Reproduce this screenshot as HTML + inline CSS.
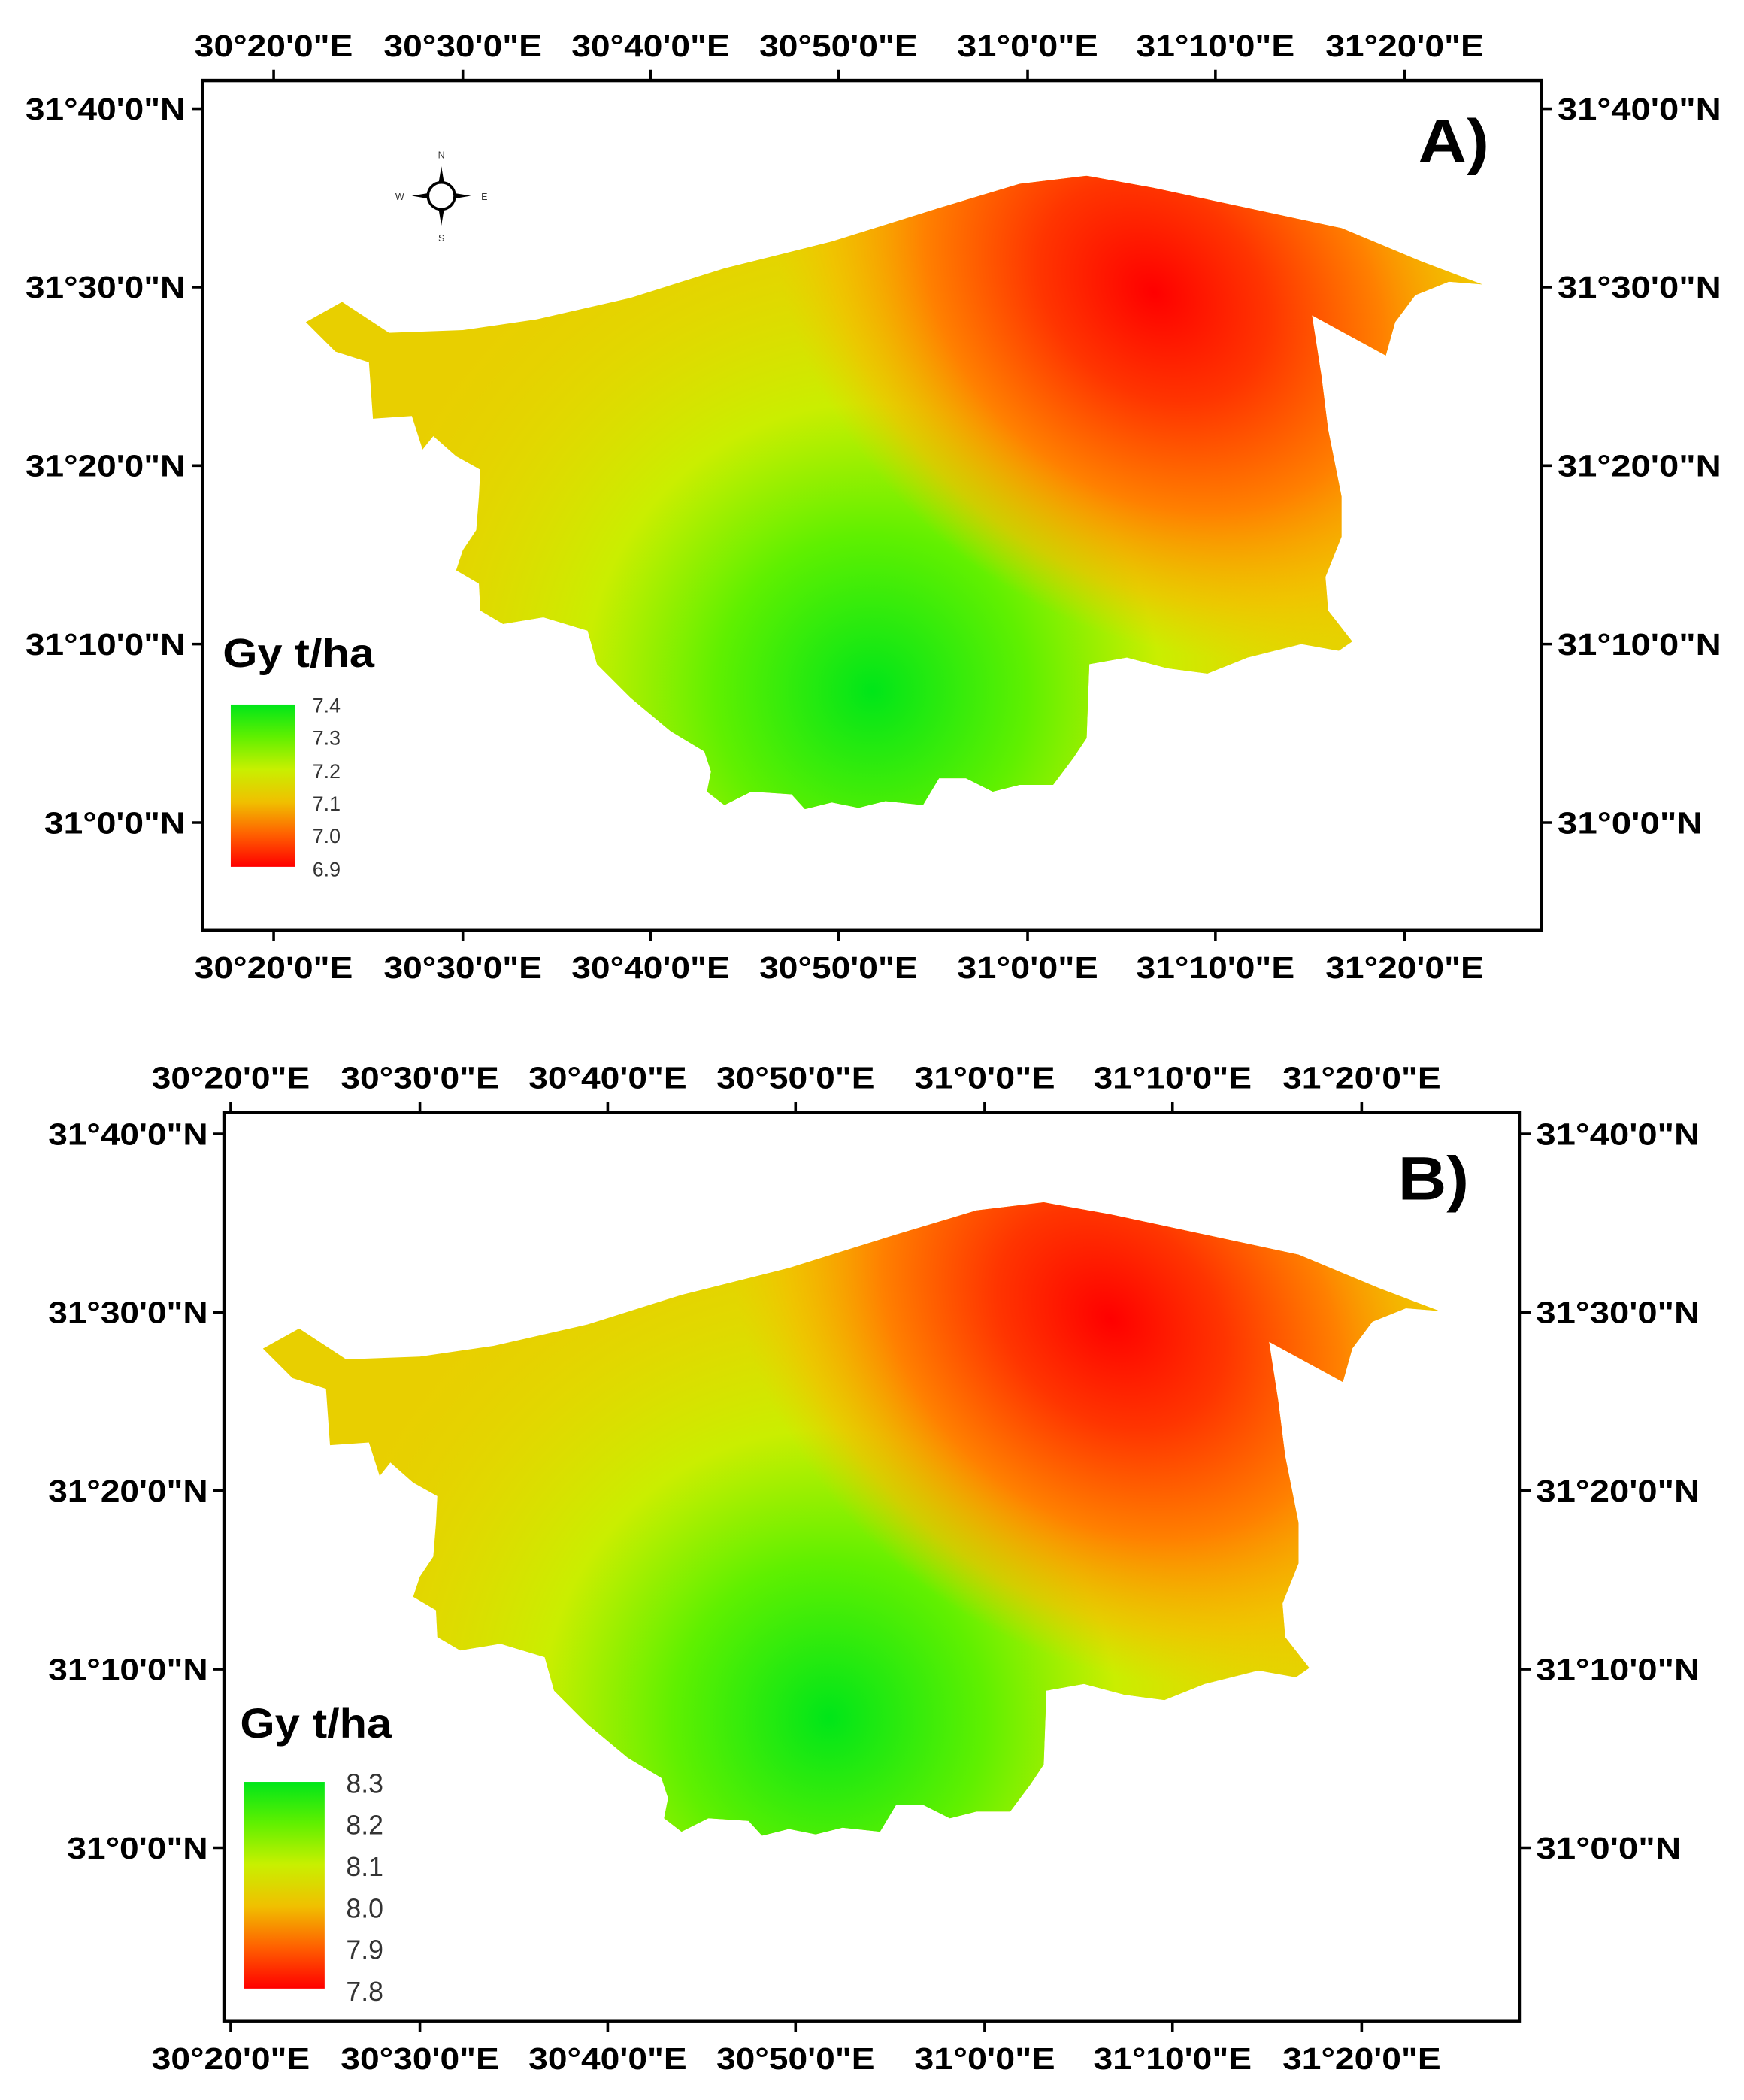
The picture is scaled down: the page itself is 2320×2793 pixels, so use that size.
<!DOCTYPE html>
<html><head><meta charset="utf-8"><style>html,body{margin:0;padding:0;background:#fff}svg{display:block}</style></head>
<body>
<svg width="2320" height="2793" viewBox="0 0 1300 1565" preserveAspectRatio="none" xmlns="http://www.w3.org/2000/svg" font-family="Liberation Sans, sans-serif" font-weight="bold">
<defs>
<clipPath id="shp"><path d="M228,240 L255,225 L290,248 L345,246 L400,238 L470,222 L540,200 L620,180 L700,155 L760,137 L810,131 L860,140 L930,155 L1000,170 L1060,195 L1105,212 L1080,210 L1055,220 L1040,240 L1033,265 L978,235 L985,280 L990,320 L1000,370 L1000,400 L988,430 L990,455 L1008,478 L998,485 L970,480 L930,490 L900,502 L870,498 L840,490 L812,495 L810,550 L800,565 L785,585 L760,585 L740,590 L720,580 L700,580 L688,600 L660,597 L640,602 L620,598 L600,603 L590,592 L560,590 L540,600 L527,590 L530,575 L525,560 L500,545 L470,520 L445,495 L438,470 L405,460 L375,465 L358,455 L357,435 L340,425 L345,410 L355,395 L357,370 L358,350 L340,340 L323,325 L315,335 L307,310 L278,312 L275,270 L250,262 Z"/></clipPath>
<radialGradient id="gr" gradientUnits="userSpaceOnUse" cx="650" cy="515" r="390">
<stop offset="0" stop-color="#00e619"/><stop offset="0.3" stop-color="#60f000"/><stop offset="0.55" stop-color="#c8f000" stop-opacity="0.95"/><stop offset="0.8" stop-color="#d8e400" stop-opacity="0.4"/><stop offset="1" stop-color="#e0d800" stop-opacity="0"/></radialGradient>
<radialGradient id="rd" gradientUnits="userSpaceOnUse" cx="860" cy="218" r="270" gradientTransform="translate(860 218) rotate(40) scale(1.15 0.9) translate(-860 -218)">
<stop offset="0" stop-color="#ff0000"/><stop offset="0.3" stop-color="#ff3500"/><stop offset="0.6" stop-color="#ff8000"/><stop offset="0.85" stop-color="#f8b800" stop-opacity="0.6"/><stop offset="1" stop-color="#f0c800" stop-opacity="0"/></radialGradient>
<linearGradient id="lgA" x1="0" y1="0" x2="0" y2="1"><stop offset="0" stop-color="#00e619"/><stop offset="0.2" stop-color="#60f000"/><stop offset="0.4" stop-color="#c8f000"/><stop offset="0.6" stop-color="#f0c000"/><stop offset="0.8" stop-color="#ff6000"/><stop offset="1" stop-color="#ff0000"/></linearGradient>
<g id="map">
<g clip-path="url(#shp)"><rect x="200" y="100" width="950" height="520" fill="#e8cf00"/><rect x="200" y="100" width="950" height="520" fill="url(#gr)"/><rect x="200" y="100" width="950" height="520" fill="url(#rd)"/></g>
</g>
</defs>
<g font-size="23">
<!-- Panel A -->
<rect x="151" y="60" width="998" height="633" fill="none" stroke="#000" stroke-width="2.5"/>
<use href="#map"/>
<g stroke="#000" stroke-width="2">
<path d="M204,60v-8M345,60v-8M485,60v-8M625,60v-8M766,60v-8M906,60v-8M1047,60v-8"/>
<path d="M204,693v8M345,693v8M485,693v8M625,693v8M766,693v8M906,693v8M1047,693v8"/>
<path d="M151,81h-8M151,214h-8M151,347h-8M151,480h-8M151,613h-8"/>
<path d="M1149,81h8M1149,214h8M1149,347h8M1149,480h8M1149,613h8"/>
</g>
<g text-anchor="middle" lengthAdjust="spacingAndGlyphs">
<text x="204" y="42" textLength="118" lengthAdjust="spacingAndGlyphs">30°20'0"E</text><text x="345" y="42" textLength="118" lengthAdjust="spacingAndGlyphs">30°30'0"E</text><text x="485" y="42" textLength="118" lengthAdjust="spacingAndGlyphs">30°40'0"E</text><text x="625" y="42" textLength="118" lengthAdjust="spacingAndGlyphs">30°50'0"E</text><text x="766" y="42" textLength="105" lengthAdjust="spacingAndGlyphs">31°0'0"E</text><text x="906" y="42" textLength="118" lengthAdjust="spacingAndGlyphs">31°10'0"E</text><text x="1047" y="42" textLength="118" lengthAdjust="spacingAndGlyphs">31°20'0"E</text>
<text x="204" y="729" textLength="118" lengthAdjust="spacingAndGlyphs">30°20'0"E</text><text x="345" y="729" textLength="118" lengthAdjust="spacingAndGlyphs">30°30'0"E</text><text x="485" y="729" textLength="118" lengthAdjust="spacingAndGlyphs">30°40'0"E</text><text x="625" y="729" textLength="118" lengthAdjust="spacingAndGlyphs">30°50'0"E</text><text x="766" y="729" textLength="105" lengthAdjust="spacingAndGlyphs">31°0'0"E</text><text x="906" y="729" textLength="118" lengthAdjust="spacingAndGlyphs">31°10'0"E</text><text x="1047" y="729" textLength="118" lengthAdjust="spacingAndGlyphs">31°20'0"E</text>
</g>
<g text-anchor="end"><text x="138" y="89" textLength="119" lengthAdjust="spacingAndGlyphs">31°40'0"N</text><text x="138" y="222" textLength="119" lengthAdjust="spacingAndGlyphs">31°30'0"N</text><text x="138" y="355" textLength="119" lengthAdjust="spacingAndGlyphs">31°20'0"N</text><text x="138" y="488" textLength="119" lengthAdjust="spacingAndGlyphs">31°10'0"N</text><text x="138" y="621" textLength="105" lengthAdjust="spacingAndGlyphs">31°0'0"N</text></g>
<g><text x="1161" y="89" textLength="122" lengthAdjust="spacingAndGlyphs">31°40'0"N</text><text x="1161" y="222" textLength="122" lengthAdjust="spacingAndGlyphs">31°30'0"N</text><text x="1161" y="355" textLength="122" lengthAdjust="spacingAndGlyphs">31°20'0"N</text><text x="1161" y="488" textLength="122" lengthAdjust="spacingAndGlyphs">31°10'0"N</text><text x="1161" y="621" textLength="108" lengthAdjust="spacingAndGlyphs">31°0'0"N</text></g>
<text x="1057" y="121" font-size="46" textLength="53" lengthAdjust="spacingAndGlyphs">A)</text>
<g transform="translate(329,146)" font-weight="normal" font-size="7" text-anchor="middle" fill="#333">
<circle r="10" fill="#fff" stroke="#000" stroke-width="2"/><path d="M0,-10 L-2,-10 L0,-22 L2,-10Z M0,10 L-2,10 L0,22 L2,10Z M-10,0 L-10,-2 L-22,0 L-10,2Z M10,0 L10,-2 L22,0 L10,2Z" fill="#000"/>
<text y="-28">N</text><text y="34">S</text><text x="-31" y="3">W</text><text x="32" y="3">E</text></g>
<text x="166" y="497" font-size="30" textLength="113" lengthAdjust="spacingAndGlyphs">Gy t/ha</text>
<rect x="172" y="525" width="48" height="121" fill="url(#lgA)"/>
<g font-weight="normal" font-size="15" fill="#333"><text x="233" y="531">7.4</text><text x="233" y="555">7.3</text><text x="233" y="580">7.2</text><text x="233" y="604">7.1</text><text x="233" y="628">7.0</text><text x="233" y="653">6.9</text></g>

<!-- Panel B -->
<rect x="167" y="829" width="966" height="677" fill="none" stroke="#000" stroke-width="2.5"/>
<use href="#map" transform="translate(-32,765)"/>
<g stroke="#000" stroke-width="2">
<path d="M172,829v-8M313,829v-8M453,829v-8M593,829v-8M734,829v-8M874,829v-8M1015,829v-8"/>
<path d="M172,1506v8M313,1506v8M453,1506v8M593,1506v8M734,1506v8M874,1506v8M1015,1506v8"/>
<path d="M167,845h-8M167,978h-8M167,1111h-8M167,1244h-8M167,1377h-8"/>
<path d="M1133,845h8M1133,978h8M1133,1111h8M1133,1244h8M1133,1377h8"/>
</g>
<g text-anchor="middle">
<text x="172" y="811" textLength="118" lengthAdjust="spacingAndGlyphs">30°20'0"E</text><text x="313" y="811" textLength="118" lengthAdjust="spacingAndGlyphs">30°30'0"E</text><text x="453" y="811" textLength="118" lengthAdjust="spacingAndGlyphs">30°40'0"E</text><text x="593" y="811" textLength="118" lengthAdjust="spacingAndGlyphs">30°50'0"E</text><text x="734" y="811" textLength="105" lengthAdjust="spacingAndGlyphs">31°0'0"E</text><text x="874" y="811" textLength="118" lengthAdjust="spacingAndGlyphs">31°10'0"E</text><text x="1015" y="811" textLength="118" lengthAdjust="spacingAndGlyphs">31°20'0"E</text>
<text x="172" y="1542" textLength="118" lengthAdjust="spacingAndGlyphs">30°20'0"E</text><text x="313" y="1542" textLength="118" lengthAdjust="spacingAndGlyphs">30°30'0"E</text><text x="453" y="1542" textLength="118" lengthAdjust="spacingAndGlyphs">30°40'0"E</text><text x="593" y="1542" textLength="118" lengthAdjust="spacingAndGlyphs">30°50'0"E</text><text x="734" y="1542" textLength="105" lengthAdjust="spacingAndGlyphs">31°0'0"E</text><text x="874" y="1542" textLength="118" lengthAdjust="spacingAndGlyphs">31°10'0"E</text><text x="1015" y="1542" textLength="118" lengthAdjust="spacingAndGlyphs">31°20'0"E</text>
</g>
<g text-anchor="end"><text x="155" y="853" textLength="119" lengthAdjust="spacingAndGlyphs">31°40'0"N</text><text x="155" y="986" textLength="119" lengthAdjust="spacingAndGlyphs">31°30'0"N</text><text x="155" y="1119" textLength="119" lengthAdjust="spacingAndGlyphs">31°20'0"N</text><text x="155" y="1252" textLength="119" lengthAdjust="spacingAndGlyphs">31°10'0"N</text><text x="155" y="1385" textLength="105" lengthAdjust="spacingAndGlyphs">31°0'0"N</text></g>
<g><text x="1145" y="853" textLength="122" lengthAdjust="spacingAndGlyphs">31°40'0"N</text><text x="1145" y="986" textLength="122" lengthAdjust="spacingAndGlyphs">31°30'0"N</text><text x="1145" y="1119" textLength="122" lengthAdjust="spacingAndGlyphs">31°20'0"N</text><text x="1145" y="1252" textLength="122" lengthAdjust="spacingAndGlyphs">31°10'0"N</text><text x="1145" y="1385" textLength="108" lengthAdjust="spacingAndGlyphs">31°0'0"N</text></g>
<text x="1042" y="894" font-size="46" textLength="53" lengthAdjust="spacingAndGlyphs">B)</text>
<text x="179" y="1295" font-size="31" textLength="113" lengthAdjust="spacingAndGlyphs">Gy t/ha</text>
<rect x="182" y="1328" width="60" height="154" fill="url(#lgA)"/>
<g font-weight="normal" font-size="20" fill="#333"><text x="258" y="1336">8.3</text><text x="258" y="1367">8.2</text><text x="258" y="1398">8.1</text><text x="258" y="1429">8.0</text><text x="258" y="1460">7.9</text><text x="258" y="1491">7.8</text></g>
</g>
</svg>
</body></html>
